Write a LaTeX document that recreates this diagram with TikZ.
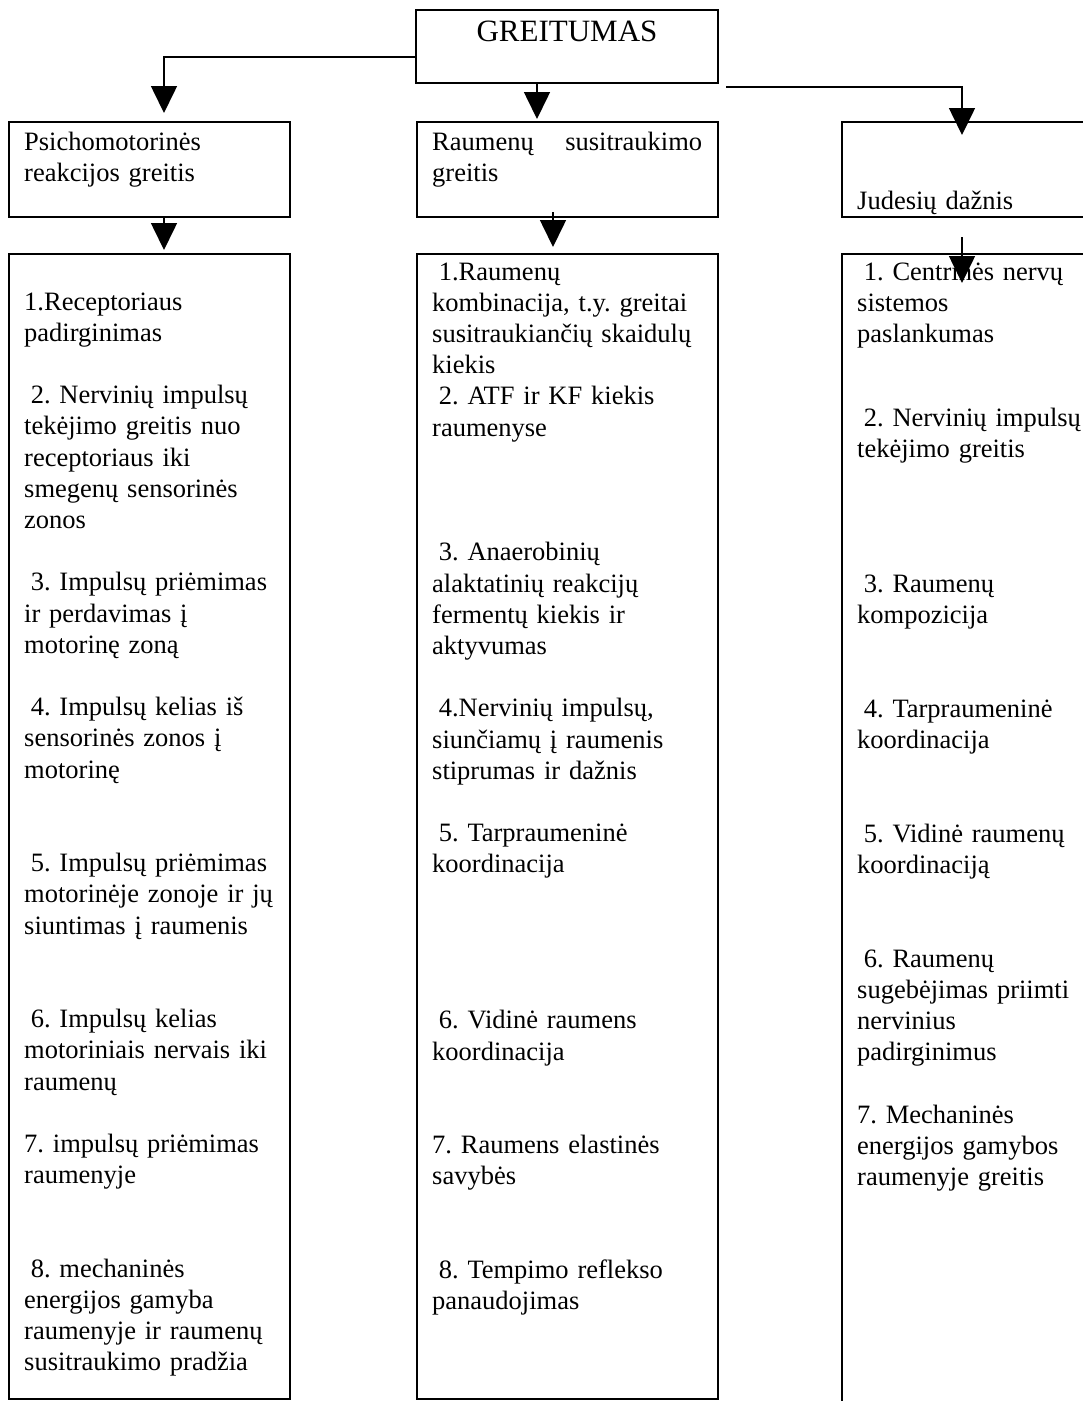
\documentclass[tikz,border=0pt]{standalone}
\usepackage{fontspec}
\setmainfont{Liberation Serif}
\usetikzlibrary{arrows.meta,calc}

\newcommand{\ind}{\hspace*{6.6pt}}

\begin{document}
\frenchspacing
\begin{tikzpicture}[x=1pt,y=-1pt,
    box/.style={draw, line width=1.8pt, inner sep=0pt, outer sep=0pt, anchor=north west},
    txt/.style={anchor=base west, inner sep=0pt, align=left, text width=#1,
        font=\fontsize{26.5}{31.2}\selectfont\frenchspacing},
    conn/.style={line width=1.6pt, -{Triangle[width=26pt,length=27pt]}}]

    \clip (0,0) rectangle (1083,1401);

    \node[box, minimum width=302, minimum height=73] (top) at (416,10) {};
    \node[anchor=base, inner sep=0pt, font=\fontsize{31}{36}\selectfont] (toptxt) at (567,41) {GREITUMAS};

    \node[box, minimum width=281, minimum height=95] (psy) at (9,122) {};
    \node[box, minimum width=301, minimum height=95] (rsg) at (417,122) {};
    \node[box, minimum width=260, minimum height=95] (jud) at (842,122) {};

    \node[box, minimum width=281, minimum height=1145] (psyL) at (9,254) {};
    \node[box, minimum width=301, minimum height=1145] (rsgL) at (417,254) {};
    \node[box, minimum width=260, minimum height=1200] (judL) at (842,254) {};

    \node[txt=270pt] (psytxt) at (24,150) {Psichomotorinės\\reakcijos greitis};
    \node[txt=270pt] (rsgtxt) at (432,150) {Raumenų\hfill susitraukimo\\greitis};
    \node[txt=220pt] (judtxt) at (857,209) {Judesių dažnis};

    % arrows from the top box
    \draw[conn] ($(top.north west)+(0,47)$) -| ($(psy.north)+(14.5,-9)$);
    \draw[conn] ($(top.south west)+(121,0)$) -- ($(rsg.north west)+(120,-3)$);
    \draw[conn] ($(top.south east)+(8,4)$) -| ($(jud.north west)+(120,13)$);

    % arrows to the lists
    \draw[conn] ($(psy.south)+(14.5,0)$) -- ($(psyL.north)+(14.5,-4)$);
    \draw[conn] ($(rsg.south west)+(136,-5)$) -- ($(rsgL.north west)+(136,-7)$);
    \draw[conn] ($(jud.south west)+(120,20)$) -- ($(judL.north west)+(120,29)$);

    \node[txt=300pt] (psylist) at (24,310) {1.Receptoriaus\\
        padirginimas\\[31.2pt]
        \ind 2. Nervinių impulsų\\
        tekėjimo greitis nuo\\
        receptoriaus iki\\
        smegenų sensorinės\\
        zonos\\[31.2pt]
        \ind 3. Impulsų priėmimas\\
        ir perdavimas į\\
        motorinę zoną\\[31.2pt]
        \ind 4. Impulsų kelias iš\\
        sensorinės zonos į\\
        motorinę\\[62.4pt]
        \ind 5. Impulsų priėmimas\\
        motorinėje zonoje ir jų\\
        siuntimas į raumenis\\[62.4pt]
        \ind 6. Impulsų kelias\\
        motoriniais nervais iki\\
        raumenų\\[31.2pt]
        7. impulsų priėmimas\\
        raumenyje\\[62.4pt]
        \ind 8. mechaninės\\
        energijos gamyba\\
        raumenyje ir raumenų\\
        susitraukimo pradžia};

    \node[txt=300pt] (rsglist) at (432,280) {\ind 1.Raumenų\\
        kombinacija, t.y. greitai\\
        susitraukiančių skaidulų\\
        kiekis\\
        \ind 2. ATF ir KF kiekis\\
        raumenyse\\[93.6pt]
        \ind 3. Anaerobinių\\
        alaktatinių reakcijų\\
        fermentų kiekis ir\\
        aktyvumas\\[31.2pt]
        \ind 4.Nervinių impulsų,\\
        siunčiamų į raumenis\\
        stiprumas ir dažnis\\[31.2pt]
        \ind 5. Tarpraumeninė\\
        koordinacija\\[124.8pt]
        \ind 6. Vidinė raumens\\
        koordinacija\\[62.4pt]
        7. Raumens elastinės\\
        savybės\\[62.4pt]
        \ind 8. Tempimo reflekso\\
        panaudojimas};

    \node[txt=300pt] (judlist) at (857,280) {\ind 1. Centrinės nervų\\
        sistemos\\
        paslankumas\\[52.8pt]
        \ind 2. Nervinių impulsų\\
        tekėjimo greitis\\[103.8pt]
        \ind 3. Raumenų\\
        kompozicija\\[62.4pt]
        \ind 4. Tarpraumeninė\\
        koordinacija\\[62.4pt]
        \ind 5. Vidinė raumenų\\
        koordinaciją\\[62.4pt]
        \ind 6. Raumenų\\
        sugebėjimas priimti\\
        nervinius\\
        padirginimus\\[31.2pt]
        7. Mechaninės\\
        energijos gamybos\\
        raumenyje greitis};

\end{tikzpicture}
\end{document}
